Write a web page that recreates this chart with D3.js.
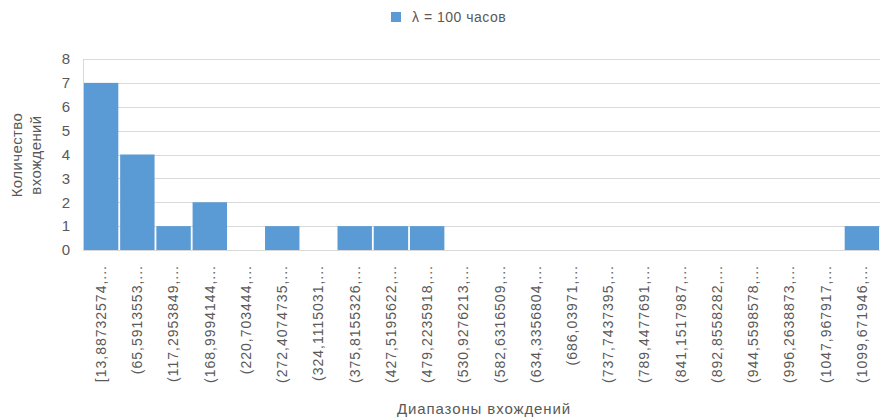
<!DOCTYPE html>
<html lang="ru">
<head>
    <meta charset="UTF-8">
    <title>Гистограмма</title>
    <script src="https://d3js.org/d3.v7.min.js"></script>
    <style>
        body {
            margin: 0;
            padding: 0;
            background: #fff;
            font-family: "Liberation Sans", Arial, sans-serif;
        }
        svg text {
            fill: #595959;
        }
    </style>
</head>
<body>
    <svg id="chart" width="880" height="419"></svg>
    <script>
        const categories = [
            "[13,88732574,...", "(65,5913553,...", "(117,2953849,...", "(168,9994144,...",
            "(220,703444,...", "(272,4074735,...", "(324,1115031,...", "(375,8155326,...",
            "(427,5195622,...", "(479,2235918,...", "(530,9276213,...", "(582,6316509,...",
            "(634,3356804,...", "(686,03971,...", "(737,7437395,...", "(789,4477691,...",
            "(841,1517987,...", "(892,8558282,...", "(944,5598578,...", "(996,2638873,...",
            "(1047,967917,...", "(1099,671946,..."
        ];
        const counts = [7, 4, 1, 2, 0, 1, 0, 1, 1, 1, 0, 0, 0, 0, 0, 0, 0, 0, 0, 0, 0, 1];
        const yTicks = [0, 1, 2, 3, 4, 5, 6, 7, 8];
        const seriesName = "λ = 100 часов";

        const svg = d3.select("#chart");
        const plotLeft = 83, plotRight = 880, plotTop = 59, plotBottom = 250;

        const x = d3.scaleBand()
            .domain(categories)
            .range([plotLeft, plotRight])
            .paddingInner(0.05)
            .paddingOuter(0.025);

        const y = d3.scaleLinear()
            .domain([0, 8])
            .range([plotBottom, plotTop]);

        // grid lines
        svg.append("g")
            .selectAll("line")
            .data(yTicks)
            .join("line")
            .attr("x1", plotLeft)
            .attr("x2", plotRight)
            .attr("y1", d => Math.round(y(d)) + 0.5)
            .attr("y2", d => Math.round(y(d)) + 0.5)
            .attr("stroke", "#d9d9d9")
            .attr("stroke-width", 1);

        // left border of the plot
        svg.append("line")
            .attr("x1", plotLeft + 0.5)
            .attr("x2", plotLeft + 0.5)
            .attr("y1", y(8))
            .attr("y2", y(0))
            .attr("stroke", "#d9d9d9");

        // bars
        svg.append("g")
            .selectAll("rect")
            .data(counts)
            .join("rect")
            .attr("x", (d, i) => x(categories[i]))
            .attr("y", d => y(d))
            .attr("width", x.bandwidth())
            .attr("height", d => y(0) - y(d))
            .attr("fill", "#5b9bd5");

        // y axis labels
        const yAxis = d3.axisLeft(y).tickValues(yTicks).tickSize(0).tickPadding(13);
        const gy = svg.append("g")
            .attr("transform", `translate(${plotLeft},0)`)
            .call(yAxis);
        gy.select(".domain").remove();
        gy.selectAll("text")
            .attr("font-size", 15)
            .attr("font-family", "Liberation Sans, Arial, sans-serif")
            .style("fill", "#595959");

        // x axis labels (rotated)
        const xAxis = d3.axisBottom(x).tickSize(0).tickPadding(0);
        const gx = svg.append("g")
            .attr("transform", `translate(0,${plotBottom})`)
            .call(xAxis);
        gx.select(".domain").remove();
        gx.selectAll("text")
            .attr("font-size", 14)
            .attr("font-family", "Liberation Sans, Arial, sans-serif")
            .attr("letter-spacing", 1)
            .attr("transform", "rotate(-90)")
            .attr("x", -15)
            .attr("y", 0)
            .attr("dy", "0.35em")
            .attr("text-anchor", "end")
            .style("fill", "#595959");

        // axis titles
        svg.append("text")
            .attr("transform", "translate(22,155) rotate(-90)")
            .attr("text-anchor", "middle")
            .attr("font-size", 15)
            .attr("letter-spacing", 0.4)
            .text("Количество");
        svg.append("text")
            .attr("transform", "translate(41,155) rotate(-90)")
            .attr("text-anchor", "middle")
            .attr("font-size", 15)
            .attr("letter-spacing", 0.4)
            .text("вхождений");

        svg.append("text")
            .attr("x", 484)
            .attr("y", 414)
            .attr("text-anchor", "middle")
            .attr("font-size", 15)
            .attr("letter-spacing", 0.9)
            .text("Диапазоны вхождений");

        // legend
        const legend = svg.append("g").attr("transform", "translate(391,12)");
        legend.append("rect")
            .attr("width", 10)
            .attr("height", 10)
            .attr("fill", "#5b9bd5");
        legend.append("text")
            .attr("x", 21)
            .attr("y", 10)
            .attr("font-size", 14)
            .attr("letter-spacing", 0.5)
            .text(seriesName);
    </script>
</body>
</html>
